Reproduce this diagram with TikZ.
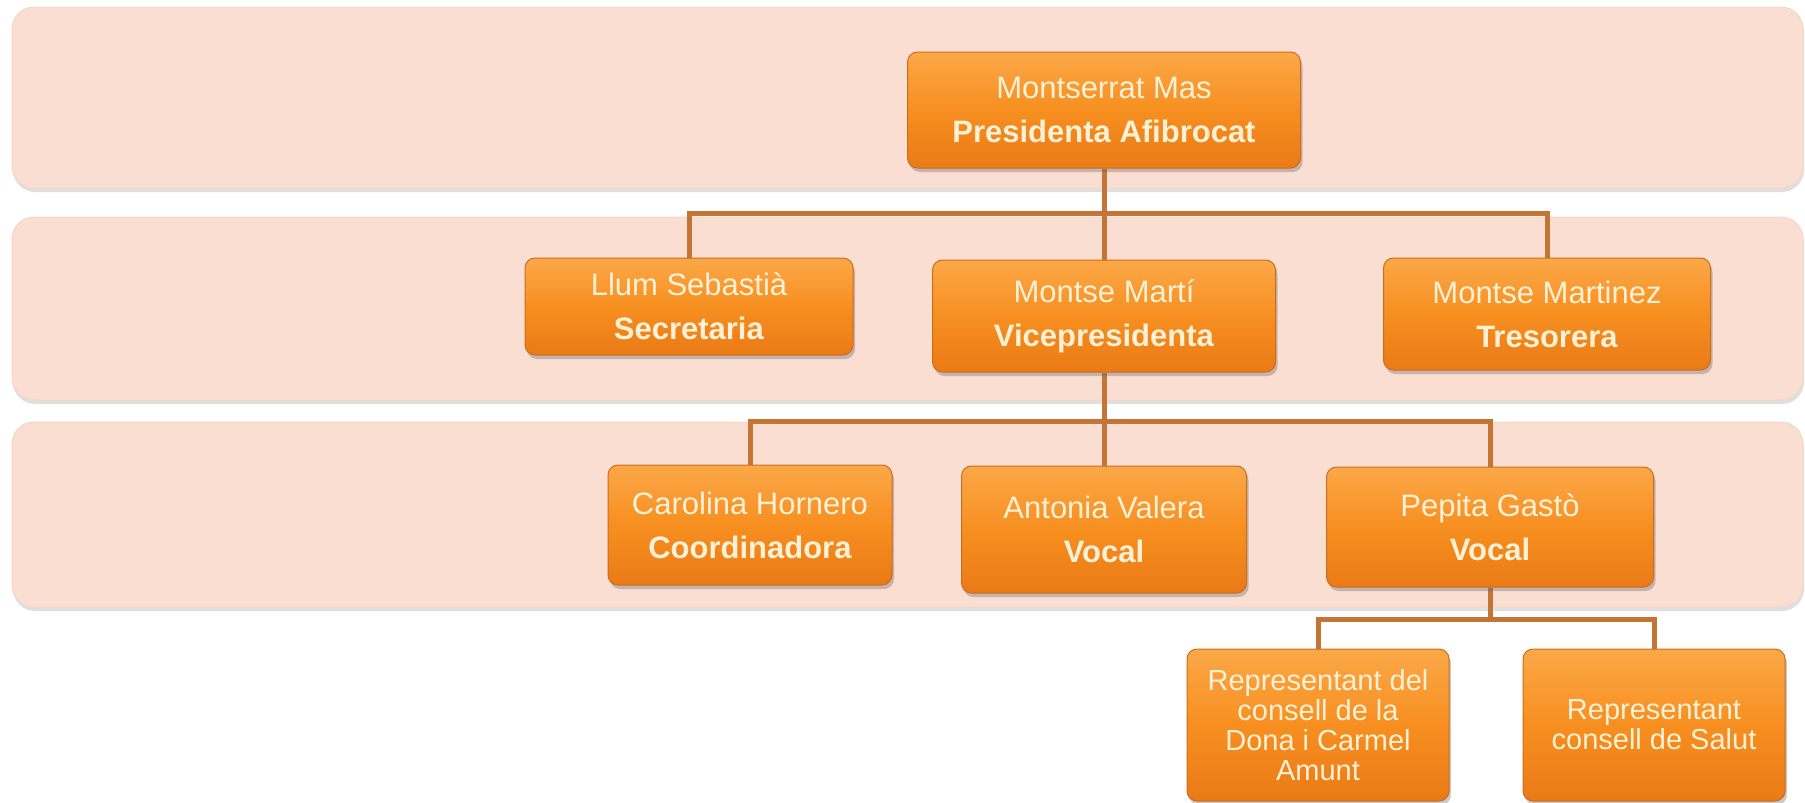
\documentclass[tikz,border=0pt]{standalone}
\usepackage{fontspec}
\setmainfont{Liberation Sans}
\usetikzlibrary{shadows}
\pgfdeclarelayer{bandlayer}
\pgfdeclarelayer{connlayer}
\pgfsetlayers{bandlayer,connlayer,main}
\definecolor{bandfill}{RGB}{251,222,210}
\definecolor{banddraw}{RGB}{246,214,200}
\definecolor{otop}{RGB}{251,168,72}
\definecolor{omid}{RGB}{247,143,32}
\definecolor{obot}{RGB}{234,122,22}
\definecolor{orim}{RGB}{205,108,30}
\definecolor{conncol}{RGB}{196,116,52}
\definecolor{txtcol}{RGB}{255,241,214}
\tikzset{
  band/.style={fill=bandfill, draw=banddraw, line width=1pt, rounded corners=22pt,
    drop shadow={shadow xshift=1pt, shadow yshift=-4pt, opacity=0.25, fill=black!50}},
  orgbox/.style={rectangle, rounded corners=10pt, inner sep=0pt, align=center,
    top color=otop, bottom color=obot, middle color=omid, draw=orim, line width=1pt,
    text=txtcol, font=\fontsize{31}{44}\selectfont,
    drop shadow={shadow xshift=2pt, shadow yshift=-4pt, opacity=0.35, fill=black!60}},
  repbox/.style={orgbox, font=\fontsize{29}{30}\selectfont},
  conn/.style={draw=conncol, line width=5pt}
}
\begin{document}
\begin{tikzpicture}[x=1pt,y=-1pt]
\useasboundingbox (0,0) rectangle (1805,803);
\begin{pgfonlayer}{bandlayer}
\fill[white] (0,0) rectangle (1805,803);
\path[band] (12,7) rectangle (1803,188);
\path[band] (12,217) rectangle (1803,400);
\path[band] (12,422) rectangle (1803,607);
\end{pgfonlayer}
% bus coordinates
\coordinate (b1) at (0,213);
\coordinate (b2) at (0,421);
\coordinate (b3) at (0,619);
% nodes
\node[orgbox, minimum width=393pt, minimum height=116pt] (pres) at (1104,110) {Montserrat Mas\\\textbf{Presidenta Afibrocat}};
\node[orgbox, minimum width=328pt, minimum height=97pt] (llum) at (689,306.5) {Llum Sebastià\\\textbf{Secretaria}};
\node[orgbox, minimum width=343pt, minimum height=112pt] (marti) at (1104,316) {Montse Martí\\\textbf{Vicepresidenta}};
\node[orgbox, minimum width=327pt, minimum height=112pt] (tres) at (1547,314) {Montse Martinez\\\textbf{Tresorera}};
\node[orgbox, minimum width=284pt, minimum height=120pt] (carol) at (750,525) {Carolina Hornero\\\textbf{Coordinadora}};
\node[orgbox, minimum width=285pt, minimum height=127pt] (anton) at (1104,529.5) {Antonia Valera\\\textbf{Vocal}};
\node[orgbox, minimum width=327pt, minimum height=120pt] (pepita) at (1490,527) {Pepita Gastò\\\textbf{Vocal}};
\node[repbox, minimum width=262pt, minimum height=152pt] (rep1) at (1318,725) {Representant del\\consell de la\\Dona i Carmel\\Amunt};
\node[repbox, minimum width=262pt, minimum height=152pt] (rep2) at (1654,725) {Representant\\consell de Salut};
% connectors
\begin{pgfonlayer}{connlayer}
\draw[conn] (pres.south) -- (marti.north);
\draw[conn] (pres.south |- b1) -| (llum.north);
\draw[conn] (pres.south |- b1) -| (tres.north);
\draw[conn] (marti.south) -- (anton.north);
\draw[conn] (marti.south |- b2) -| (carol.north);
\draw[conn] (marti.south |- b2) -| (pepita.north);
\draw[conn] (pepita.south) -- (pepita.south |- b3);
\draw[conn] (pepita.south |- b3) -| (rep1.north);
\draw[conn] (pepita.south |- b3) -| (rep2.north);
\end{pgfonlayer}
\end{tikzpicture}
\end{document}
